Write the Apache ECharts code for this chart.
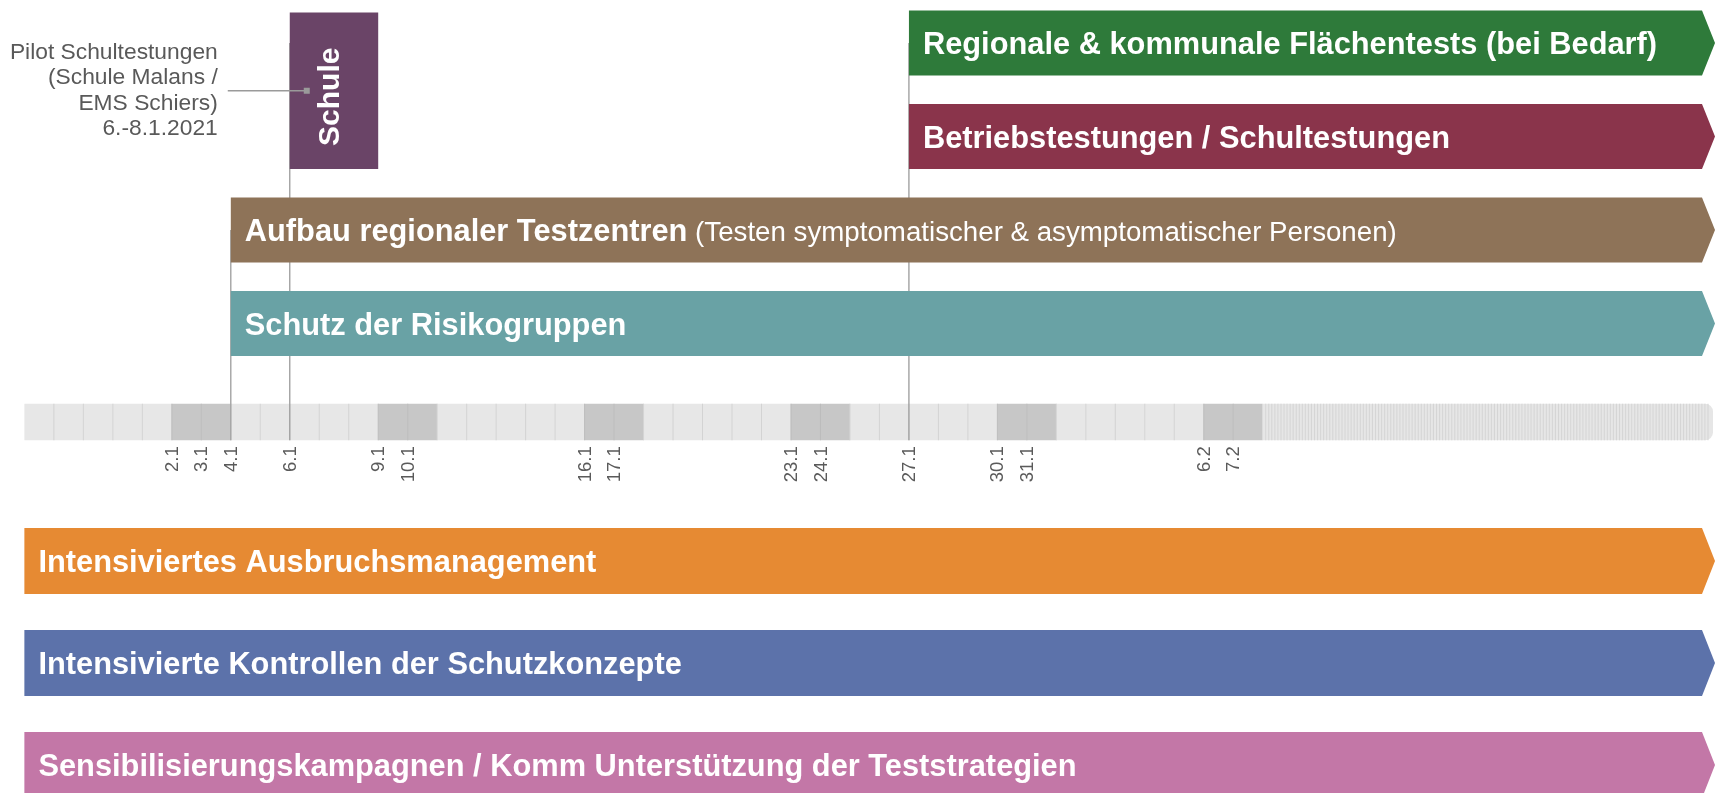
<!DOCTYPE html>
<html><head><meta charset="utf-8">
<script src="https://cdn.jsdelivr.net/npm/echarts@6/dist/echarts.min.js"></script>
<style>html,body{margin:0;padding:0;background:#fff;overflow:hidden}#c{width:1715px;height:793px}</style>
</head><body><div id="c"></div>
<script>
// ---- data ----
const days = ['28.12','29.12','30.12','31.12','1.1','2.1','3.1','4.1','5.1','6.1','7.1','8.1','9.1','10.1',
  '11.1','12.1','13.1','14.1','15.1','16.1','17.1','18.1','19.1','20.1','21.1','22.1','23.1','24.1','25.1',
  '26.1','27.1','28.1','29.1','30.1','31.1','1.2','2.2','3.2','4.2','5.2','6.2','7.2'];
const weekendDays = ['2.1','3.1','9.1','10.1','16.1','17.1','23.1','24.1','30.1','31.1','6.2','7.2'];
const tickLabels = ['2.1','3.1','4.1','6.1','9.1','10.1','16.1','17.1','23.1','24.1','27.1','30.1','31.1','6.2','7.2'];
const upperLanes = ['Regionale & kommunale Flächentests (bei Bedarf)','Betriebstestungen / Schultestungen','Aufbau regionaler Testzentren','Schutz der Risikogruppen'];
const upperNotes = ['','',' (Testen symptomatischer & asymptomatischer Personen)',''];
const upperStart = ['27.1','27.1','4.1','4.1'];
const upperColors = ['#2e7a3a','#8a344b','#8e7358','#69a2a5'];
const lowerLanes = ['Intensiviertes Ausbruchsmanagement','Intensivierte Kontrollen der Schutzkonzepte','Sensibilisierungskampagnen / Komm Unterstützung der Teststrategien'];
const lowerStart = ['28.12','28.12','28.12'];
const lowerColors = ['#e68a33','#5c72aa','#c377a7'];
const schoolLabel = ['Schule'];
const schoolStart = ['6.1'];
const schoolEnd = ['8.1'];
const schoolLanes = [0, 1];
const pilotNote = ['Pilot Schultestungen','(Schule Malans /','EMS Schiers)','6.-8.1.2021'];
const markerDays = ['4.1','6.1','27.1'];
const markerTopLane = [2, 0, 0];

// ---- layout / style ----
const xMax = 57.34;
const FONT = "'Liberation Sans', Arial, Helvetica, sans-serif";
const TIP = 13;
const STRIP_LANE = 4;
const STRIP_SHIFT = 5, STRIP_H = 36.5;
const UP_H = 470, UP_PITCH = 93.5, UP_FIRST = 43;
const LO_TOP = 510, LO_H = 283, LO_PITCH = 102;
const idx = d => days.indexOf(d);

function barShape(api, startX, lane, ratio, color, label, note) {
  const p0 = api.coord([startX, lane]);
  const pe = api.coord([xMax, lane]);
  const h = Math.abs(api.size([0, 1])[1]) * ratio;
  const c = p0[1], t = c - h / 2, b = c + h / 2;
  return { type: 'group', children: [{
    type: 'polygon', z2: 1,
    shape: { points: [[p0[0], t], [pe[0] - TIP, t], [pe[0], c], [pe[0] - TIP, b], [p0[0], b]] },
    style: { fill: color }
  }, {
    type: 'text', z2: 5,
    x: p0[0] + 14, y: c + 3,
    style: {
      text: note ? '{b|' + label + '}{n|' + note + '}' : '{b|' + label + '}',
      rich: {
        b: { fontFamily: FONT, fontWeight: 'bold', fontSize: 30.8, fill: '#ffffff' },
        n: { fontFamily: FONT, fontWeight: 'normal', fontSize: 27.7, fill: '#ffffff' }
      },
      verticalAlign: 'middle', align: 'left'
    }
  }]};
}

const chart = echarts.init(document.getElementById('c'), null, { renderer: 'canvas' });
const upMin = -UP_FIRST / UP_PITCH;
const option = {
  animation: false,
  backgroundColor: '#ffffff',
  grid: [
    { left: 24.4, right: 0, top: 0, height: UP_H },
    { left: 24.4, right: 0, top: LO_TOP, height: LO_H }
  ],
  xAxis: [
    { type: 'value', gridIndex: 0, min: 0, max: xMax, show: false },
    { type: 'value', gridIndex: 1, min: 0, max: xMax, show: false }
  ],
  yAxis: [
    { type: 'value', gridIndex: 0, inverse: true, min: upMin, max: upMin + UP_H / UP_PITCH, show: false },
    { type: 'value', gridIndex: 1, inverse: true, min: -0.5, max: -0.5 + LO_H / LO_PITCH, show: false }
  ],
  series: [
    // timeline day cells
    {
      type: 'custom', xAxisIndex: 0, yAxisIndex: 0, z: 1, silent: true,
      data: days.map((d, i) => [i, weekendDays.indexOf(d) >= 0 ? 1 : 0]),
      renderItem: (params, api) => {
        const i = api.value(0);
        const p0 = api.coord([i, STRIP_LANE]);
        const p1 = api.coord([i + 1, STRIP_LANE]);
        const top = p0[1] + STRIP_SHIFT - STRIP_H / 2;
        const ch = [{
          type: 'rect', shape: { x: p0[0], y: top, width: p1[0] - p0[0], height: STRIP_H },
          style: { fill: api.value(1) ? '#c7c7c7' : '#e7e7e7' }
        }];
        if (i > 0) ch.push({
          type: 'line', z2: 2, shape: { x1: p0[0], y1: top, x2: p0[0], y2: top + STRIP_H },
          style: { stroke: api.value(1) ? '#bcbcbc' : '#d3d3d3', lineWidth: 1 }
        });
        return { type: 'group', children: ch };
      }
    },
    // compressed tail of the timeline
    {
      type: 'custom', xAxisIndex: 0, yAxisIndex: 0, z: 1, silent: true,
      data: [[days.length, xMax]],
      renderItem: (params, api) => {
        const p0 = api.coord([api.value(0), STRIP_LANE]);
        const p1 = api.coord([api.value(1), STRIP_LANE]);
        const top = p0[1] + STRIP_SHIFT - STRIP_H / 2, bot = top + STRIP_H;
        const endX = p1[0] - 2;
        const ch = [{
          type: 'rect',
          shape: { x: p0[0], y: top, width: endX - p0[0], height: STRIP_H, r: [0, 8, 8, 0] },
          style: { fill: '#e6e6e6' }
        }];
        for (let x = p0[0] + 3; x < endX - 4; x += 3.05) {
          ch.push({ type: 'line', z2: 2, shape: { x1: x, y1: top, x2: x, y2: bot }, style: { stroke: '#d2d2d2', lineWidth: 0.9 } });
        }
        return { type: 'group', children: ch };
      }
    },
    // date labels
    {
      type: 'custom', xAxisIndex: 0, yAxisIndex: 0, z: 4, silent: true,
      data: tickLabels.map(l => [idx(l)]),
      renderItem: (params, api) => {
        const p = api.coord([api.value(0), STRIP_LANE]);
        const bot = p[1] + STRIP_SHIFT + STRIP_H / 2;
        return {
          type: 'text', x: p[0] + 1, y: bot + 6, rotation: Math.PI / 2,
          style: { text: tickLabels[params.dataIndex], fontFamily: FONT, fontSize: 18.5, fill: '#5a5a5a', align: 'right', verticalAlign: 'middle' }
        };
      }
    },
    // vertical marker lines
    {
      type: 'custom', xAxisIndex: 0, yAxisIndex: 0, z: 2, silent: true,
      data: markerDays.map((d, i) => [idx(d), markerTopLane[i]]),
      renderItem: (params, api) => {
        const x = api.coord([api.value(0), 0])[0];
        const t = api.coord([api.value(0), api.value(1)])[1];
        const s = api.coord([api.value(0), STRIP_LANE])[1] + STRIP_SHIFT + STRIP_H / 2;
        return { type: 'line', shape: { x1: x, y1: t, x2: x, y2: s }, style: { stroke: '#a2a2a2', lineWidth: 1.4 } };
      }
    },
    // upper arrow bars
    {
      type: 'custom', xAxisIndex: 0, yAxisIndex: 0, z: 3, silent: true,
      data: upperLanes.map((n, i) => [idx(upperStart[i]), i]),
      renderItem: (params, api) => {
        const i = params.dataIndex;
        return barShape(api, api.value(0), api.value(1), 0.695, upperColors[i], upperLanes[i], upperNotes[i]);
      }
    },
    // school pilot block
    {
      type: 'custom', xAxisIndex: 0, yAxisIndex: 0, z: 3, silent: true,
      data: schoolLabel.map((n, i) => [idx(schoolStart[i]), idx(schoolEnd[i]) + 1]),
      renderItem: (params, api) => {
        const h = Math.abs(api.size([0, 1])[1]) * 0.695;
        const pa = api.coord([api.value(0), schoolLanes[0]]);
        const pb = api.coord([api.value(1), schoolLanes[1]]);
        const top = pa[1] - h / 2 + 2, bot = pb[1] + h / 2;
        const cx = (pa[0] + pb[0]) / 2, cy = (top + bot) / 2;
        return {
          type: 'group', children: [
            { type: 'rect', shape: { x: pa[0], y: top, width: pb[0] - pa[0], height: bot - top }, style: { fill: '#6a4467' } },
            { type: 'text', x: cx - 3, y: cy + 6, rotation: Math.PI / 2, z2: 5,
              style: { text: schoolLabel[params.dataIndex], fontFamily: FONT, fontWeight: 'bold', fontSize: 30, fill: '#ffffff', align: 'center', verticalAlign: 'middle' } },
            { type: 'line', z2: 4, shape: { x1: pa[0] - 62, y1: cy, x2: pa[0] + 17, y2: cy }, style: { stroke: '#9a9a9a', lineWidth: 1.4 } },
            { type: 'rect', z2: 6, shape: { x: pa[0] + 14, y: cy - 3, width: 6, height: 6 }, style: { fill: '#9a9a9a' } },
            { type: 'text', x: pa[0] - 72, y: cy, z2: 5,
              style: { text: pilotNote.join('\n'), fontFamily: FONT, fontSize: 22.8, lineHeight: 25.5, fill: '#595959', align: 'right', verticalAlign: 'middle' } }
          ]
        };
      }
    },
    // lower arrow bars
    {
      type: 'custom', xAxisIndex: 1, yAxisIndex: 1, z: 3, silent: true,
      data: lowerLanes.map((n, i) => [idx(lowerStart[i]), i]),
      renderItem: (params, api) => {
        const i = params.dataIndex;
        return barShape(api, api.value(0), api.value(1), 0.647, lowerColors[i], lowerLanes[i], '');
      }
    }
  ]
};
chart.setOption(option);
</script>
</body></html>
